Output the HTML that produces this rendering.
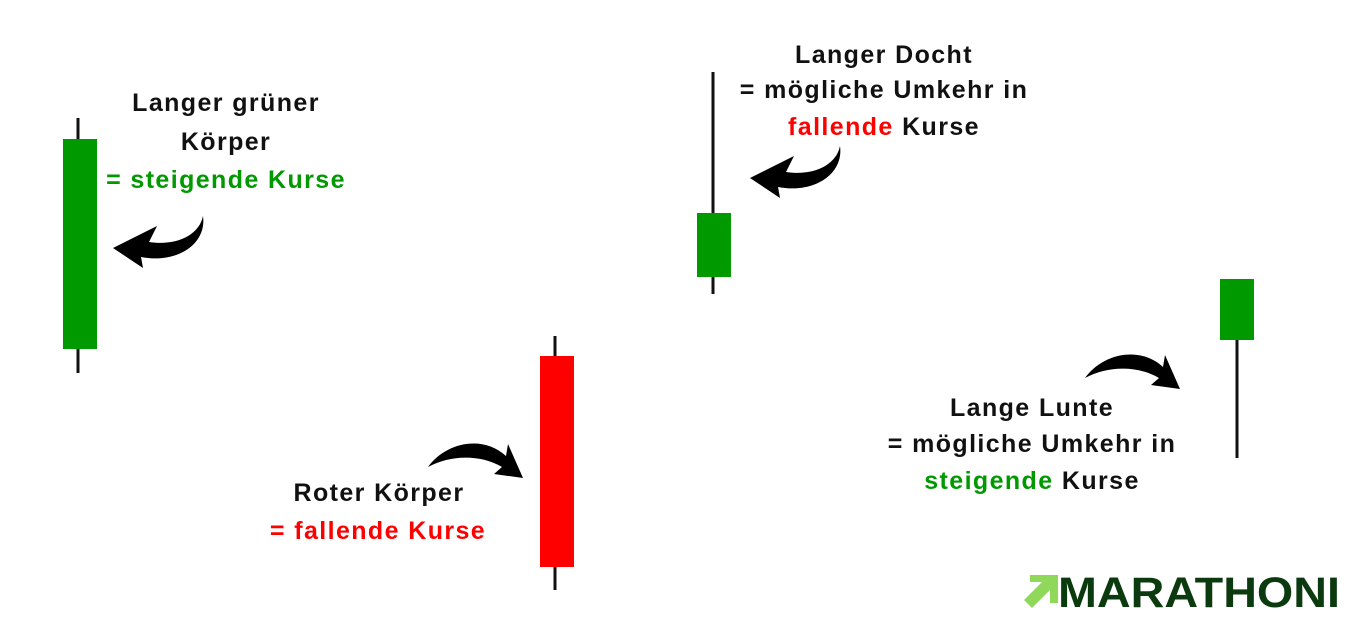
<!DOCTYPE html>
<html><head><meta charset="utf-8"><style>
body{margin:0;width:1356px;height:626px;background:#fff;position:relative;overflow:hidden;font-family:"Liberation Sans",sans-serif}
.t{position:absolute;font-weight:bold;font-size:25px;letter-spacing:1.4px;color:#111;text-align:center;width:400px;line-height:28px;white-space:nowrap}
.g{color:#009a00}.r{color:#ff0000}
svg{position:absolute;left:0;top:0}
</style></head><body>
<svg width="1356" height="626">
<g stroke="#111" stroke-width="3">
<line x1="78" y1="118" x2="78" y2="373"/>
<line x1="555" y1="336" x2="555" y2="590"/>
<line x1="713" y1="72" x2="713" y2="294"/>
<line x1="1237" y1="300" x2="1237" y2="458"/>
</g>
<rect x="63" y="139" width="34" height="210" fill="#009a00"/>
<rect x="540" y="356" width="34" height="211" fill="#ff0000"/>
<rect x="697" y="213" width="34" height="64" fill="#009a00"/>
<rect x="1220" y="279" width="34" height="61" fill="#009a00"/>
<g fill="#000">
<path transform="translate(113,210)" d="M90,6 C86,26 62,36 36,32 L44,16 L0,38 L30,58 L28,47 C64,54 94,34 90,6 Z"/>
<path transform="translate(750,140)" d="M90,6 C86,26 62,36 36,32 L44,16 L0,38 L30,58 L28,47 C64,54 94,34 90,6 Z"/>
<path d="M428,467 C445,443 482,434 506,456 L508,444 L523,478 L494,474 L502,467 C480,454 450,455 428,467 Z"/>
<path transform="translate(657,-89)" d="M428,467 C445,443 482,434 506,456 L508,444 L523,478 L494,474 L502,467 C480,454 450,455 428,467 Z"/>
</g>
<polygon points="1024,600 1042,582 1030,582 1030,575 1058,575 1058,603 1050,603 1050,590 1032,608" fill="#8fd85a"/>
<text x="1058" y="607" font-family="Liberation Sans" font-weight="bold" font-size="43" fill="#0b3a0f" textLength="282" lengthAdjust="spacingAndGlyphs">MARATHONI</text>
</svg>
<div class="t" style="left:26px;top:89px">Langer grüner</div>
<div class="t" style="left:26px;top:128px">Körper</div>
<div class="t g" style="left:26px;top:166px">= steigende Kurse</div>
<div class="t" style="left:684px;top:41px">Langer Docht</div>
<div class="t" style="left:684px;top:76px">= mögliche Umkehr in</div>
<div class="t" style="left:684px;top:113px"><span class="r">fallende</span> Kurse</div>
<div class="t" style="left:179px;top:479px">Roter Körper</div>
<div class="t r" style="left:178px;top:517px">= fallende Kurse</div>
<div class="t" style="left:832px;top:394px">Lange Lunte</div>
<div class="t" style="left:832px;top:430px">= mögliche Umkehr in</div>
<div class="t" style="left:832px;top:467px"><span class="g">steigende</span> Kurse</div>
</body></html>
